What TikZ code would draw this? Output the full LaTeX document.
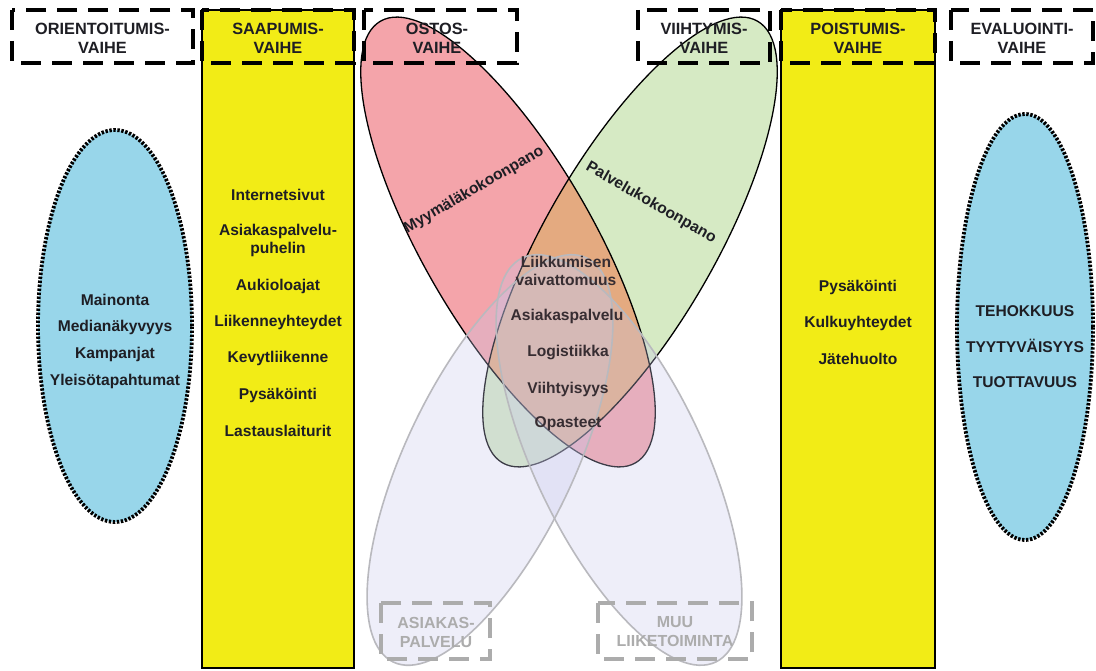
\documentclass[tikz,border=0pt]{standalone}
\usepackage{fontspec}
\setmainfont{Liberation Sans}
\definecolor{ink}{RGB}{30,30,36}
\definecolor{centreink}{RGB}{55,45,50}
\definecolor{colyellow}{RGB}{242,236,22}
\definecolor{skyblue}{RGB}{152,214,234}
\definecolor{pinkfill}{RGB}{244,164,170}
\definecolor{greenfill}{RGB}{214,234,196}
\definecolor{overlapfill}{RGB}{228,170,128}
\definecolor{lavfill}{RGB}{200,200,236}
\definecolor{lavline}{RGB}{185,185,190}
\definecolor{greyline}{RGB}{172,172,172}
\begin{document}
\begin{tikzpicture}[x=1pt,y=-1pt,
  phasebox/.style={draw=black, line width=4pt, dash pattern=on 20pt off 11pt},
  sidebox/.style={draw=greyline, line width=3.6pt, dash pattern=on 20pt off 11pt},
  phasetext/.style={font=\fontsize{16.3}{19}\selectfont\bfseries, text=ink, align=center, inner sep=0pt},
  sidetext/.style={font=\fontsize{16}{19}\selectfont\bfseries, text=greyline, align=center, inner sep=0pt},
  item/.style={font=\fontsize{15.6}{18}\selectfont\bfseries, text=ink, align=center, inner sep=0pt},
  centreitem/.style={item, text=centreink},
  column/.style={fill=colyellow, draw=black, line width=1.2pt},
  goal/.style={fill=skyblue, draw=black, line width=3.8pt, dash pattern=on 2.4pt off 1.6pt},
  mixline/.style={draw=black, line width=1.3pt},
  lavline/.style={draw=lavline, line width=1.6pt}]
\useasboundingbox (0,0) rectangle (1096,671);
\fill[white] (0,0) rectangle (1096,671);

% yellow phase columns
\draw[column] (202,10) rectangle (354,668);
\draw[column] (781,10) rectangle (935,668);

% blue goal ellipses
\draw[goal] (115,326) ellipse [x radius=77pt, y radius=196pt];
\draw[goal] (1025,327) ellipse [x radius=68pt, y radius=213pt];

% shop layout and service layout ellipses
\coordinate (pc) at (508,242);
\coordinate (gc) at (630,242);
\fill[pinkfill, rotate around={-60:(pc)}] (pc) ellipse [x radius=255pt, y radius=85pt];
\fill[greenfill, rotate around={60:(gc)}] (gc) ellipse [x radius=255pt, y radius=85pt];
\begin{scope}
  \clip[rotate around={-60:(pc)}] (pc) ellipse [x radius=255pt, y radius=85pt];
  \fill[overlapfill, rotate around={60:(gc)}] (gc) ellipse [x radius=255pt, y radius=85pt];
\end{scope}
\draw[mixline, rotate around={-60:(pc)}] (pc) ellipse [x radius=255pt, y radius=85pt];
\draw[mixline, rotate around={60:(gc)}] (gc) ellipse [x radius=255pt, y radius=85pt];

% faded customer service / other business ellipses
\coordinate (lc) at (490,460);
\coordinate (rc) at (619,460);
\fill[lavfill, fill opacity=0.3, rotate around={64.4:(lc)}] (lc) ellipse [x radius=224pt, y radius=84pt];
\fill[lavfill, fill opacity=0.3, rotate around={-64.4:(rc)}] (rc) ellipse [x radius=224pt, y radius=84pt];
\draw[lavline, rotate around={64.4:(lc)}] (lc) ellipse [x radius=224pt, y radius=84pt];
\draw[lavline, rotate around={-64.4:(rc)}] (rc) ellipse [x radius=224pt, y radius=84pt];

% phase headers
\draw[phasebox] (12,10) rectangle (193,63);
\draw[phasebox] (202,10) rectangle (354,63);
\draw[phasebox] (364,10) rectangle (517,63);
\draw[phasebox] (638,10) rectangle (770,63);
\draw[phasebox] (781,10) rectangle (935,63);
\draw[phasebox] (951,10) rectangle (1093,63);
\node[phasetext] (h1) at (102.5,38) {ORIENTOITUMIS-\\VAIHE};
\node[phasetext] (h2) at (278,38) {SAAPUMIS-\\VAIHE};
\node[phasetext] (h3) at (437,38) {OSTOS-\\VAIHE};
\node[phasetext] (h4) at (704,38) {VIIHTYMIS-\\VAIHE};
\node[phasetext] (h5) at (858,38) {POISTUMIS-\\VAIHE};
\node[phasetext] (h6) at (1022,38) {EVALUOINTI-\\VAIHE};

% grey side boxes
\draw[sidebox] (381,603) rectangle (490,659);
\draw[sidebox] (598,603) rectangle (752,659);
\node[sidetext] (s1) at (436,632) {ASIAKAS-\\PALVELU};
\node[sidetext] (s2) at (675,632) {MUU\\LIIKETOIMINTA};

% orientation items
\node[item] (o1) at (115,300) {Mainonta};
\node[item] (o2) at (115,327) {Medianäkyvyys};
\node[item] (o3) at (115,354) {Kampanjat};
\node[item] (o4) at (115,381) {Yleisötapahtumat};

% arrival items
\node[item] (a1) at (278,195) {Internetsivut};
\node[item] (a2) at (278,240) {Asiakaspalvelu-\\puhelin};
\node[item] (a3) at (278,286) {Aukioloajat};
\node[item] (a4) at (278,322) {Liikenneyhteydet};
\node[item] (a5) at (278,358) {Kevytliikenne};
\node[item] (a6) at (278,395) {Pysäköinti};
\node[item] (a7) at (278,431) {Lastauslaiturit};

% layout labels
\node[item, rotate=30] (m1) at (474,190) {Myymäläkokoonpano};
\node[item, rotate=-30] (m2) at (651,203) {Palvelukokoonpano};

% shared items
\node[centreitem] (c1) at (566,271) {Liikkumisen\\vaivattomuus};
\node[centreitem] (c2) at (567,316) {Asiakaspalvelu};
\node[centreitem] (c3) at (568,353) {Logistiikka};
\node[centreitem] (c4) at (568,389) {Viihtyisyys};
\node[centreitem] (c5) at (568,424) {Opasteet};

% departure items
\node[item] (d1) at (858,287) {Pysäköinti};
\node[item] (d2) at (858,323) {Kulkuyhteydet};
\node[item] (d3) at (858,359) {Jätehuolto};

% evaluation items
\node[item] (e1) at (1025,311) {TEHOKKUUS};
\node[item] (e2) at (1025,346) {TYYTYVÄISYYS};
\node[item] (e3) at (1025,382) {TUOTTAVUUS};
\end{tikzpicture}
\end{document}
